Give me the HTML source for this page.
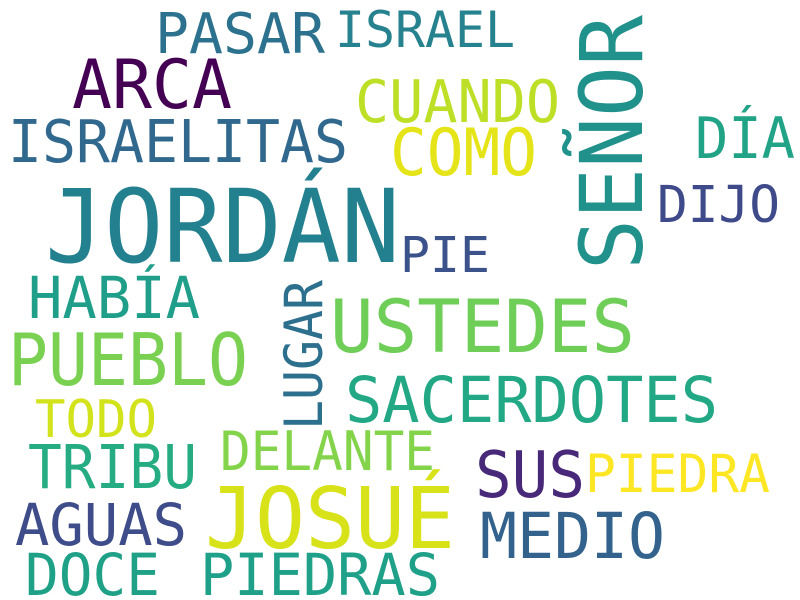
<!DOCTYPE html>
<html><head><meta charset="utf-8"><style>
html,body{margin:0;padding:0;background:#fff;}
svg{display:block;}
text{font-family:"DejaVu Sans Mono","Liberation Mono",monospace;}
</style></head><body>
<svg width="800" height="600" viewBox="0 0 800 600">
<rect width="800" height="600" fill="#fff"/>
<g id="words"></g>
</svg>
<script>
const words = ["PASAR","ISRAEL","ARCA","SEÑOR","CUANDO","ISRAELITAS","COMO","DÍA","JORDÁN","DIJO","PIE","HABÍA","LUGAR","USTEDES","PUEBLO","SACERDOTES","TODO","DELANTE","TRIBU","SUS","PIEDRA","JOSUÉ","AGUAS","MEDIO","DOCE","PIEDRAS"];
const colors = ["#2c728e","#26828e","#440154","#21918c","#bddf26","#31688e","#e5e419","#20a386","#23808e","#3e4a89","#3b528b","#1f9e89","#2d708e","#6ece58","#7ad151","#22a884","#d2e21b","#84d44b","#25ac82","#482878","#fde725","#d8e219","#3e4c8a","#33638d","#1fa187","#1fa088"];
// [x, baseline, width, capHeight, rotated]
const boxes = [
[155,53,170,41,0],[335,47,180,37,0],[72,108,160,50,0],[642,270,255,64,1],
[355,122,205,44,0],[8,162,340,44,0],[390,175,147,50,0],[695,158,100,43,0],
[45,262,355,77,0],[657,222,123,37,0],[400,272,90,35,0],[28,318,172,43,0],
[322,430,150,40,1],[330,352,305,54,0],[8,385,240,57,0],[345,422,373,47,0],
[35,437,122,39,0],[220,470,215,42,0],[28,488,169,48,0],[475,497,110,49,0],
[585,492,185,40,0],[205,548,250,63,0],[15,545,172,43,0],[480,558,185,48,0],
[25,595,135,43,0],[200,595,240,43,0]
];
const g = document.getElementById('words');
const NS = "http://www.w3.org/2000/svg";
words.forEach((w,i)=>{
  const [x,y,len,cap,rot] = boxes[i];
  const fs = (len/(0.602*w.length) + cap/0.729)/2;
  const t = document.createElementNS(NS,'text');
  
  
  t.setAttribute('x', x);
  t.setAttribute('y', y);
  t.setAttribute('font-size', fs.toFixed(1));
  t.setAttribute('fill', colors[i]);
  t.setAttribute('textLength', len);
  t.setAttribute('lengthAdjust', 'spacingAndGlyphs');
  if (rot) t.setAttribute('transform', `rotate(-90 ${x} ${y})`);
  t.textContent = w;
  g.appendChild(t);
});
</script>
</body></html>
